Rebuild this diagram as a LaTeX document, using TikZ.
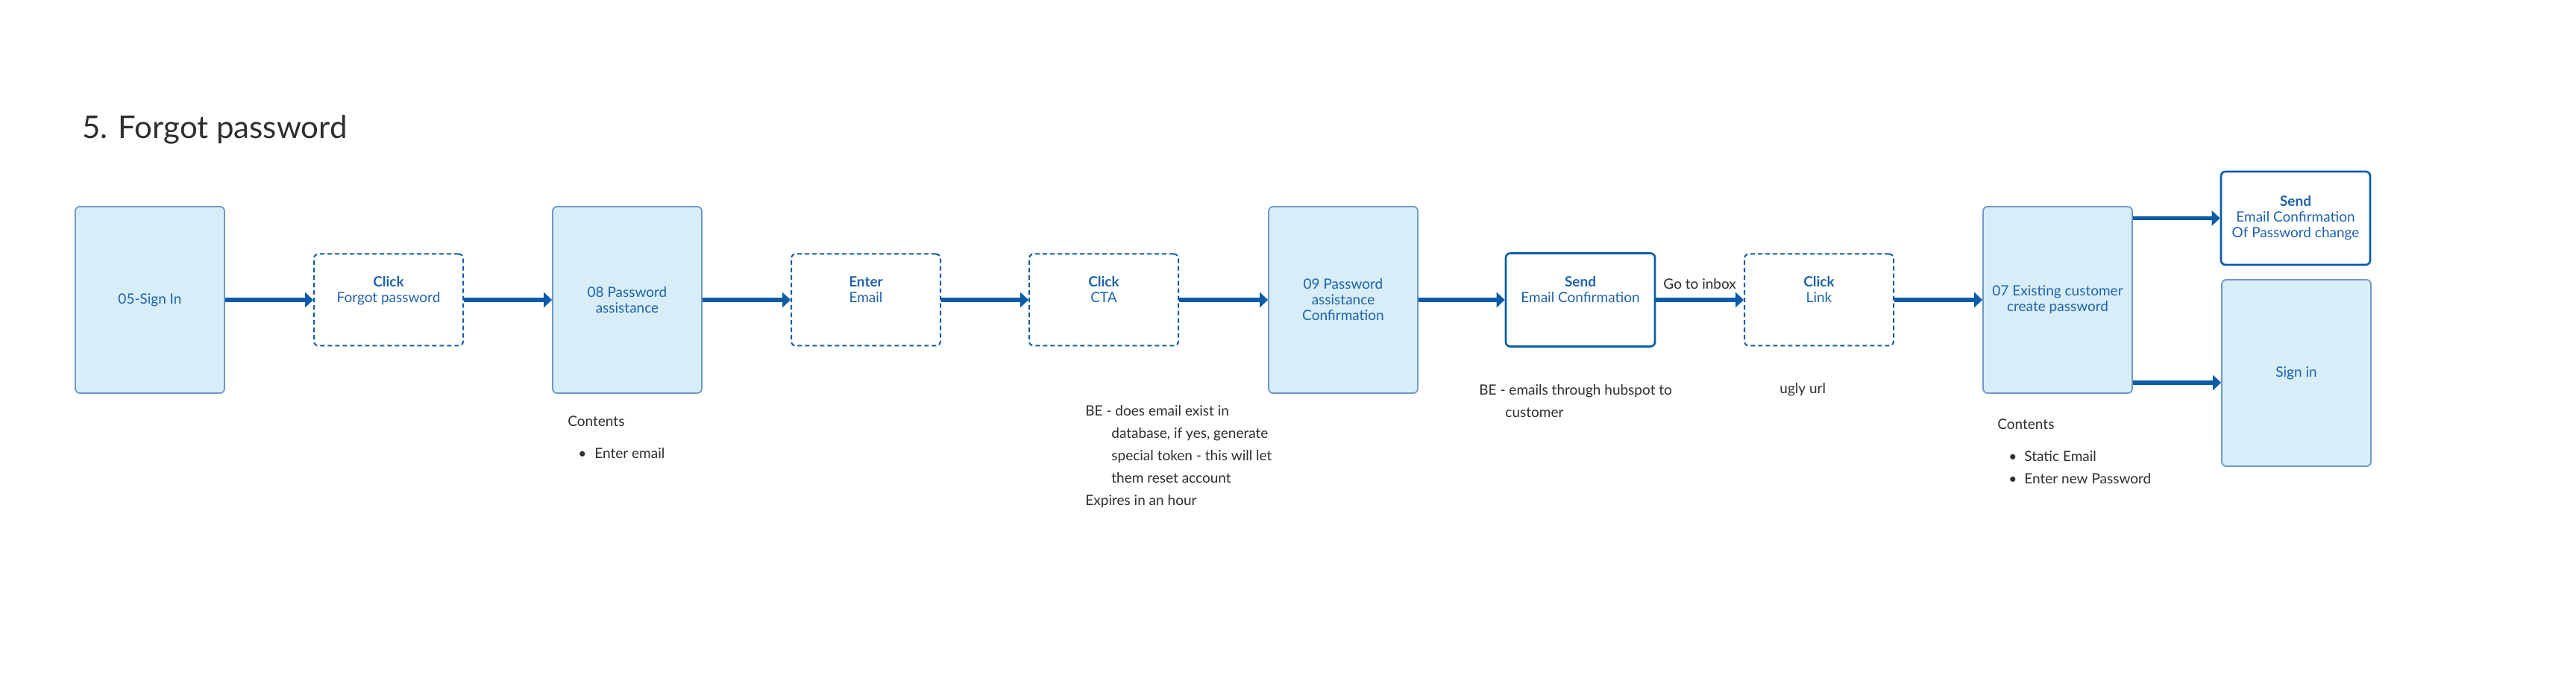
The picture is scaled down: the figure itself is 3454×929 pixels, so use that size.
\documentclass[tikz,border=0pt]{standalone}
\usepackage{fontspec}
\setmainfont{Lato}
\usetikzlibrary{arrows.meta}

\definecolor{flowblue}{HTML}{0B5BA8}
\definecolor{labelblue}{HTML}{1E62AC}
\definecolor{screenfill}{HTML}{D7EEF8}
\definecolor{screenline}{HTML}{6E98C8}
\definecolor{notegrey}{HTML}{2E2E2E}

\tikzset{
	boxfont/.style={text=labelblue, align=center, font=\fontsize{9.5}{10.5}\selectfont},
	screen/.style={boxfont, draw=screenline, line width=0.9pt, fill=screenfill, rounded corners=3pt, minimum width=100pt, minimum height=125pt},
	action/.style={boxfont, draw=flowblue, line width=1pt, dash pattern=on 3pt off 2pt, rounded corners=3pt, minimum width=100pt, minimum height=61.5pt},
	sendbox/.style={boxfont, draw=flowblue, line width=1.3pt, rounded corners=3pt, minimum width=100pt, minimum height=62.5pt},
	flow/.style={draw=flowblue, line width=2.6pt, -{Triangle[length=5.5pt,width=10pt]}},
	note/.style={text=notegrey, align=left, anchor=base west, inner sep=0pt, font=\fontsize{9.5}{15}\selectfont}
}

\begin{document}
\begin{tikzpicture}[x=0.5pt, y=-0.5pt]
			\useasboundingbox (0,0) rectangle (3454,929);
			\node[anchor=base west, inner sep=0pt, text=notegrey, font=\fontsize{21}{24}\selectfont] (title) at (110,186) {5. Forgot password};
			
			\node[screen] (signin) at (201,402) {05-Sign In};
			\node[action] (clickfp) at (521,402) {\textbf{Click}\\Forgot password\\\strut};
			\node[screen] (pwassist) at (841,402) {08 Password\\assistance};
			\node[action] (enteremail) at (1161,402) {\textbf{Enter}\\Email\\\strut};
			\node[action] (clickcta) at (1480,402) {\textbf{Click}\\CTA\\\strut};
			\node[screen] (pwconfirm) at (1801,402) {09 Password\\assistance\\Confirmation};
			\node[sendbox] (sendconf) at (2119,402) {\textbf{Send}\\Email Confirmation\\\strut};
			\node[action] (clicklink) at (2439,402) {\textbf{Click}\\Link\\\strut};
			\node[screen] (createpw) at (2759,402) {07 Existing customer\\create password};
			\node[sendbox] (sendchange) at (3078,292.5) {\textbf{Send}\\Email Confirmation\\Of Password change};
			\node[screen] (signinend) at (3079,500) {Sign in};
			
			\draw[flow] (signin) -- (clickfp);
			\draw[flow] (clickfp) -- (pwassist);
			\draw[flow] (pwassist) -- (enteremail);
			\draw[flow] (enteremail) -- (clickcta);
			\draw[flow] (clickcta) -- (pwconfirm);
			\draw[flow] (pwconfirm) -- (sendconf);
			\draw[flow] (sendconf) -- node[above=6pt, inner sep=0pt, text=notegrey, font=\fontsize{9.5}{10.5}\selectfont] {Go to inbox} (clicklink);
			\draw[flow] (clicklink) -- (createpw);
			\draw[flow] (sendchange.west -| createpw.east) -- (sendchange.west);
			\draw[flow] ([yshift=-6.5pt]signinend.west -| createpw.east) -- ([yshift=-6.5pt]signinend.west);
			
			\node[note] (contents1) at (761,572) {Contents};
			\node[note] (items1) at (775,615) {\makebox[11pt][l]{\textbullet}Enter email};
			\node[note] (becheck) at (1455,678) {BE - does email exist in\\\hspace*{17.5pt}database, if yes, generate\\\hspace*{17.5pt}special token - this will let\\\hspace*{17.5pt}them reset account\\Expires in an hour};
			\node[note] (besend) at (1983,560) {BE - emails through hubspot to\\\hspace*{17.5pt}customer};
			\node[note] (uglyurl) at (2386,528) {ugly url};
			\node[note] (contents2) at (2678,576) {Contents};
			\node[note] (items2) at (2693,649) {\makebox[10.5pt][l]{\textbullet}Static Email\\\makebox[10.5pt][l]{\textbullet}Enter new Password};
		\end{tikzpicture}
\end{document}
